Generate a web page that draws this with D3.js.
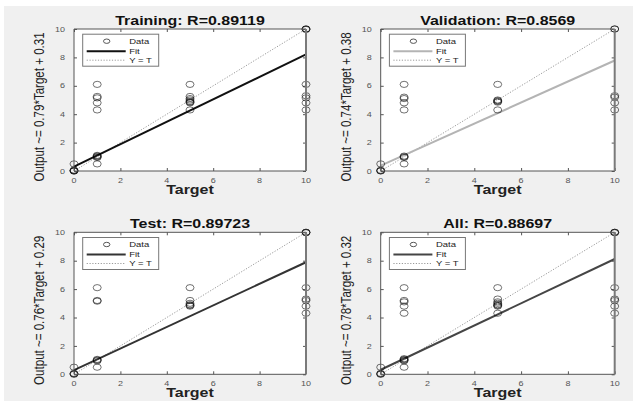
<!DOCTYPE html>
<html><head><meta charset="utf-8">
<script src="https://cdn.jsdelivr.net/npm/d3@7/dist/d3.min.js"></script>
<style>html,body{margin:0;padding:0;background:#fff;}svg{display:block;}</style>
</head><body>
<svg id="c" width="633" height="401"></svg>
<script>
// ---- data ----
const titles = ["Training: R=0.89119", "Validation: R=0.8569", "Test: R=0.89723", "All: R=0.88697"];
const fitSlopes = [0.79, 0.74, 0.76, 0.78];
const fitIntercepts = [0.31, 0.38, 0.29, 0.32];
const yLabels = ["Output ~= 0.79*Target + 0.31", "Output ~= 0.74*Target + 0.38",
                 "Output ~= 0.76*Target + 0.29", "Output ~= 0.78*Target + 0.32"];
const fitColors = ["#111111", "#b4b4b4", "#333333", "#454545"];
const tickValues = [0, 2, 4, 6, 8, 10];

const trainingTarget = [0,0,0,0,0, 1,1,1,1,1,1,1,1,1,1, 5,5,5,5,5,5,5,5, 10,10,10,10,10,10,10,10];
const trainingOutput = [0,0,0.03,0.06,0.5, 0.95,1.0,1.05,1.1,0.5,4.3,4.8,5.15,5.25,6.1, 4.3,4.8,4.85,4.9,5.0,5.1,5.25,6.1, 10,10,9.97,4.3,4.8,5.15,5.3,6.1];

const validationTarget = [0,0,0,0, 1,1,1,1,1,1,1,1,1, 5,5,5,5,5,5, 10,10,10,10,10,10];
const validationOutput = [0,0.02,0.05,0.5, 0.5,0.95,1.0,1.05,4.3,4.8,5.1,5.2,6.1, 4.3,4.85,4.9,4.95,5.0,6.1, 10,10,4.3,4.8,5.2,5.3];

const testTarget = [0,0,0,0, 1,1,1,1,1,1,1, 5,5,5,5,5,5, 10,10,10,10,10,10,10,10];
const testOutput = [0,0.03,0.06,0.5, 0.5,0.95,1.0,1.05,5.15,5.2,6.1, 4.8,4.85,4.9,5.0,5.2,6.1, 10,10,9.97,4.3,4.8,5.2,5.3,6.1];

const allTarget = [0,0,0,0, 1,1,1,1,1,1,1,1,1,1, 5,5,5,5,5,5,5,5, 10,10,10,10,10,10,10,10];
const allOutput = [0,0.03,0.06,0.5, 0.5,0.95,1.0,1.05,1.1,4.3,4.8,5.1,5.2,6.1, 4.3,4.8,4.85,4.9,5.0,5.1,5.3,6.1, 10,10,9.97,4.3,4.8,5.2,5.3,6.1];

const targets = [trainingTarget, validationTarget, testTarget, allTarget];
const outputs = [trainingOutput, validationOutput, testOutput, allOutput];

// ---- layout ----
const boxes = [
  {L:74, R:306, T:29, B:171},
  {L:380.7, R:614.7, T:29, B:171},
  {L:74, R:306, T:232.3, B:374.3},
  {L:380.7, R:614.7, T:232.3, B:374.3}
];
const SY = 0.77;
const svg = d3.select("#c");
svg.append("rect").attr("x",4).attr("y",6).attr("width",629).attr("height",395).attr("fill","#f0f0f0");

function txt(g, x, y, s, opts) {
  const t = g.append("text")
    .attr("transform", `translate(${x},${y}) scale(1,${SY})` + (opts.rot ? " rotate(-90)" : ""))
    .attr("font-family", "Liberation Sans, Arial, sans-serif")
    .attr("font-size", opts.size)
    .attr("font-weight", opts.bold ? "bold" : "normal")
    .attr("fill", opts.color || "#222")
    .attr("text-anchor", opts.anchor || "middle")
    .text(s);
  return t;
}

boxes.forEach((b, i) => {
  const g = svg.append("g");
  const x = d3.scaleLinear().domain([0,10]).range([b.L, b.R]);
  const y = d3.scaleLinear().domain([0,10]).range([b.B, b.T]);

  g.append("rect").attr("x",b.L).attr("y",b.T).attr("width",b.R-b.L).attr("height",b.B-b.T).attr("fill","#fff");

  // ticks (inward, all sides)
  const tk = 3;
  g.append("g").attr("transform",`translate(0,${b.B})`)
    .call(d3.axisBottom(x).tickValues(tickValues).tickSizeInner(-tk).tickSizeOuter(0).tickFormat(""));
  g.append("g").attr("transform",`translate(0,${b.T})`)
    .call(d3.axisTop(x).tickValues(tickValues).tickSizeInner(-tk).tickSizeOuter(0).tickFormat(""));
  g.append("g").attr("transform",`translate(${b.L},0)`)
    .call(d3.axisLeft(y).tickValues(tickValues).tickSizeInner(-tk).tickSizeOuter(0).tickFormat(""));
  g.append("g").attr("transform",`translate(${b.R},0)`)
    .call(d3.axisRight(y).tickValues(tickValues).tickSizeInner(-tk).tickSizeOuter(0).tickFormat(""));
  g.selectAll(".domain").remove();
  g.selectAll(".tick line").attr("stroke","#555");

  // Y = T line
  g.append("line").attr("x1",x(0)).attr("y1",y(0)).attr("x2",x(10)).attr("y2",y(10))
    .attr("stroke","#9a9a9a").attr("stroke-width",1).attr("stroke-dasharray","1.2,1.6");
  // fit line
  g.append("line").attr("x1",x(0)).attr("y1",y(fitIntercepts[i]))
    .attr("x2",x(10)).attr("y2",y(fitSlopes[i]*10+fitIntercepts[i]))
    .attr("stroke",fitColors[i]).attr("stroke-width",2);

  // data circles
  const pts = targets[i].map((t, j) => ({t, o: outputs[i][j]}));
  g.selectAll("ellipse.pt").data(pts).join("ellipse").attr("class","pt")
    .attr("cx", d => x(d.t)).attr("cy", d => y(d.o))
    .attr("rx",4).attr("ry",3.1)
    .attr("fill","none").attr("stroke","#000").attr("stroke-opacity",0.55).attr("stroke-width",1);

  // axes box
  g.append("path").attr("d",`M${b.R},${b.B}H${b.L}V${b.T}H${b.R}`).attr("fill","none").attr("stroke","#555").attr("stroke-width",1);
  g.append("line").attr("x1",b.R).attr("y1",b.T).attr("x2",b.R).attr("y2",b.B).attr("stroke","#7a7a7a").attr("stroke-width",2);

  // tick labels
  tickValues.forEach(v => {
    txt(g, x(v), b.B + 11.5, String(v), {size:9, color:"#555"});
    txt(g, b.L - 9, y(v) + 2.6, String(v), {size:9, color:"#555", anchor:"end"});
  });

  // title, labels
  txt(g, (b.L+b.R)/2, b.T - 4, titles[i], {size:16, bold:true, color:"#111"});
  txt(g, (b.L+b.R)/2, b.B + 23, "Target", {size:16, bold:true, color:"#222"});
  txt(g, b.L - 30, (b.T+b.B)/2 + 7, yLabels[i], {size:15, rot:true, color:"#222"});

  // legend
  const lx = b.L + 8.7, ly = b.T + 5.2;
  const lg = g.append("g");
  lg.append("rect").attr("x",lx).attr("y",ly).attr("width",76).attr("height",32)
    .attr("fill","#fff").attr("stroke","#777").attr("stroke-width",1);
  lg.append("ellipse").attr("cx",lx+24).attr("cy",ly+7).attr("rx",3.2).attr("ry",2.2)
    .attr("fill","none").attr("stroke","#444").attr("stroke-width",0.9);
  lg.append("line").attr("x1",lx+4).attr("x2",lx+43).attr("y1",ly+17).attr("y2",ly+17)
    .attr("stroke",fitColors[i]).attr("stroke-width",2);
  lg.append("line").attr("x1",lx+4).attr("x2",lx+43).attr("y1",ly+26).attr("y2",ly+26)
    .attr("stroke","#9a9a9a").attr("stroke-width",1).attr("stroke-dasharray","1.2,1.6");
  const legTexts = ["Data","Fit","Y = T"];
  [7,17,26].forEach((oy, k) => {
    txt(lg, lx+46.5, ly+oy+2.8, legTexts[k], {size:9.5, anchor:"start", color:"#222"});
  });
});
</script>
</body></html>
